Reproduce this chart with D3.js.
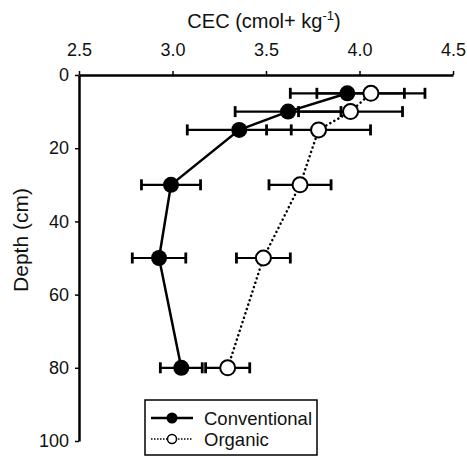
<!DOCTYPE html>
<html>
<head>
<meta charset="utf-8">
<script src="https://cdnjs.cloudflare.com/ajax/libs/d3/7.8.5/d3.min.js"></script>
<style>
  body { margin: 0; background: #fff; }
  svg { font-family: "Liberation Sans", Arial, sans-serif; }
</style>
</head>
<body>
<div id="chart"></div>
<script>
// Depth of each sample (cm)
var depths = [5, 10, 15, 30, 50, 80];
// CEC values (cmol+ kg-1) and their error bars
var conventional = [3.935, 3.618, 3.357, 2.992, 2.928, 3.047];
var conventionalErr = [0.305, 0.283, 0.278, 0.158, 0.143, 0.112];
var organic = [4.061, 3.952, 3.781, 3.682, 3.486, 3.295];
var organicErr = [0.289, 0.278, 0.278, 0.166, 0.144, 0.118];
var xTicks = [2.5, 3.0, 3.5, 4.0, 4.5];
var yTicks = [0, 20, 40, 60, 80, 100];
var seriesNames = ["Conventional", "Organic"];

var width = 467, height = 457;
var margin = {top: 75, left: 79, right: 14, bottom: 16};

var svg = d3.select("#chart").append("svg")
    .attr("width", width)
    .attr("height", height);

var x = d3.scaleLinear().domain([2.5, 4.5]).range([margin.left, width - margin.right]);
var y = d3.scaleLinear().domain([0, 100]).range([margin.top, height - margin.bottom]);

// Axes
var xAxis = svg.append("g")
    .attr("transform", "translate(0," + margin.top + ")")
    .call(d3.axisTop(x).tickValues(xTicks).tickFormat(d3.format(".1f")).tickSize(4).tickSizeOuter(0));
var yAxis = svg.append("g")
    .attr("transform", "translate(" + margin.left + ",0)")
    .call(d3.axisLeft(y).tickValues(yTicks).tickSize(4).tickSizeOuter(0));

[xAxis, yAxis].forEach(function(ax) {
    ax.select(".domain").attr("stroke", "#000").attr("stroke-width", 2.5);
    ax.selectAll(".tick line").attr("stroke", "#000").attr("stroke-width", 1.5);
    ax.selectAll(".tick text").attr("fill", "#111").style("font-size", "18px");
});
xAxis.selectAll(".tick text").attr("dy", "0").attr("y", -19);
yAxis.selectAll(".tick text").attr("x", -10);

// Axis titles
var title = svg.append("text")
    .attr("x", 264)
    .attr("y", 28)
    .attr("text-anchor", "middle")
    .style("font-size", "20px")
    .attr("fill", "#111");
title.append("tspan").text("CEC (cmol+ kg");
title.append("tspan").attr("dy", -8).style("font-size", "13px").text("-1");
title.append("tspan").attr("dy", 8).text(")");

svg.append("text")
    .attr("transform", "translate(28,240) rotate(-90)")
    .attr("text-anchor", "middle")
    .style("font-size", "21px")
    .attr("fill", "#111")
    .text("Depth (cm)");

function drawErrors(vals, errs) {
    var g = svg.append("g").attr("stroke", "#000").attr("stroke-width", 2.2);
    depths.forEach(function(d, i) {
        var y0 = y(d), x1 = x(vals[i] - errs[i]), x2 = x(vals[i] + errs[i]);
        g.append("line").attr("x1", x1).attr("x2", x2).attr("y1", y0).attr("y2", y0);
        g.append("line").attr("x1", x1).attr("x2", x1).attr("y1", y0 - 5.5).attr("y2", y0 + 5.5).attr("stroke-width", 2.8);
        g.append("line").attr("x1", x2).attr("x2", x2).attr("y1", y0 - 5.5).attr("y2", y0 + 5.5).attr("stroke-width", 2.8);
    });
}
drawErrors(conventional, conventionalErr);
drawErrors(organic, organicErr);

var line = d3.line().x(function(d) { return x(d[0]); }).y(function(d) { return y(d[1]); });

svg.append("path")
    .datum(organic.map(function(v, i) { return [v, depths[i]]; }))
    .attr("d", line)
    .attr("fill", "none")
    .attr("stroke", "#000")
    .attr("stroke-width", 2.5)
    .attr("stroke-dasharray", "0.1,4.5")
    .attr("stroke-linecap", "round");

svg.append("path")
    .datum(conventional.map(function(v, i) { return [v, depths[i]]; }))
    .attr("d", line)
    .attr("fill", "none")
    .attr("stroke", "#000")
    .attr("stroke-width", 2.5);

svg.selectAll("circle.conv")
    .data(conventional)
    .enter().append("circle")
    .attr("class", "conv")
    .attr("cx", function(d) { return x(d); })
    .attr("cy", function(d, i) { return y(depths[i]); })
    .attr("r", 8)
    .attr("fill", "#000");

svg.selectAll("circle.org")
    .data(organic)
    .enter().append("circle")
    .attr("class", "org")
    .attr("cx", function(d) { return x(d); })
    .attr("cy", function(d, i) { return y(depths[i]); })
    .attr("r", 7.5)
    .attr("fill", "#fff")
    .attr("stroke", "#000")
    .attr("stroke-width", 2);

// Legend
var legend = svg.append("g").attr("transform", "translate(145,400)");
legend.append("rect")
    .attr("width", 172)
    .attr("height", 55)
    .attr("fill", "#fff")
    .attr("stroke", "#000")
    .attr("stroke-width", 1.5);

seriesNames.forEach(function(name, i) {
    var ly = 18 + i * 21;
    var ln = legend.append("line")
        .attr("x1", 6).attr("x2", 48).attr("y1", ly).attr("y2", ly)
        .attr("stroke", "#000");
    if (i === 0) {
        ln.attr("stroke-width", 2.5);
        legend.append("circle").attr("cx", 27).attr("cy", ly).attr("r", 5.5).attr("fill", "#000");
    } else {
        ln.attr("stroke-width", 1.5).attr("stroke-dasharray", "1.5,1.5");
        legend.append("circle").attr("cx", 27).attr("cy", ly).attr("r", 4.5)
            .attr("fill", "#fff").attr("stroke", "#000").attr("stroke-width", 1.5);
    }
    legend.append("text")
        .attr("x", 59)
        .attr("y", ly + 6.5)
        .style("font-size", "18.5px")
        .attr("fill", "#111")
        .text(name);
});
</script>
</body>
</html>
